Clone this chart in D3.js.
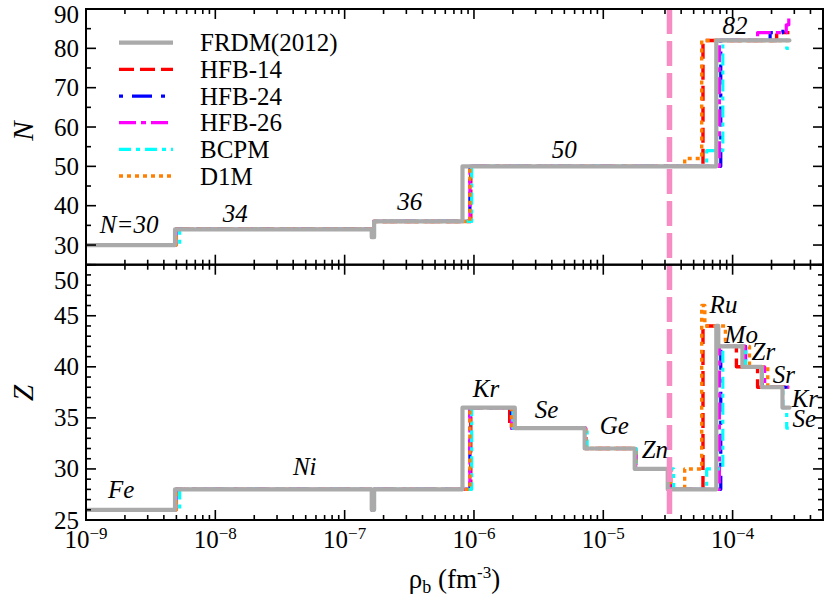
<!DOCTYPE html>
<html><head><meta charset="utf-8">
<script src="https://cdn.jsdelivr.net/npm/d3@7"></script>
<style>
body{margin:0;background:#fff;}
svg{display:block;}
</style></head>
<body><svg id="chart" width="824" height="603"></svg>
<script>
// ---------------- DATA ----------------
// each model: start density of each nucleus (fm^-3), its Z and N, and last density
const frdmRho = [1e-9, 4.88e-9, 1.62e-7, 1.69e-7, 8.15e-7, 2.07e-6, 7.18e-6, 1.75e-5, 3.15e-5, 7.48e-5, 7.75e-5, 1.19e-4, 1.68e-4, 2.43e-4];
const frdmZ   = [26, 28, 26, 28, 36, 34, 32, 30, 28, 44, 42, 40, 38, 36];
const frdmN   = [30, 34, 32, 36, 50, 50, 50, 50, 50, 82, 82, 82, 82, 82];
const frdmEnd = 2.75e-4;

const hfb14Rho = [1e-9, 4.95e-9, 1.62e-7, 1.68e-7, 9.45e-7, 1.89e-6, 7.3e-6, 1.78e-5, 3.32e-5, 5.9e-5, 7.6e-5, 1.07e-4, 1.56e-4, 2.19e-4];
const hfb14Z   = [26, 28, 26, 28, 36, 34, 32, 30, 28, 44, 42, 40, 38, 38];
const hfb14N   = [30, 34, 32, 36, 50, 50, 50, 50, 50, 82, 82, 82, 82, 84];
const hfb14End = 2.75e-4;

const hfb24Rho = [1e-9, 4.95e-9, 1.62e-7, 1.68e-7, 9.3e-7, 1.95e-6, 7.3e-6, 1.78e-5, 3.25e-5, 8.1e-5, 1.26e-4, 1.7e-4, 1.95e-4, 2.45e-4];
const hfb24Z   = [26, 28, 26, 28, 36, 34, 32, 30, 28, 42, 40, 38, 38, 38];
const hfb24N   = [30, 34, 32, 36, 50, 50, 50, 50, 50, 82, 82, 82, 84, 86];
const hfb24End = 2.72e-4;

const hfb26Rho = [1e-9, 4.95e-9, 1.62e-7, 1.68e-7, 9.3e-7, 1.95e-6, 7.3e-6, 1.78e-5, 3.25e-5, 7.9e-5, 1.25e-4, 1.56e-4, 1.77e-4, 2.6e-4, 2.72e-4];
const hfb26Z   = [26, 28, 26, 28, 36, 34, 32, 30, 28, 42, 40, 40, 38, 38, 38];
const hfb26N   = [30, 34, 32, 36, 50, 50, 50, 50, 50, 82, 82, 84, 84, 86, 88];
const hfb26End = 2.75e-4;

const bcpmRho = [1e-9, 5.3e-9, 1.62e-7, 1.7e-7, 9.6e-7, 2.0e-6, 7.5e-6, 1.8e-5, 3.5e-5, 6.3e-5, 8.4e-5, 1.26e-4, 1.7e-4, 2.45e-4, 2.62e-4];
const bcpmZ   = [26, 28, 26, 28, 36, 34, 32, 30, 28, 30, 42, 40, 38, 36, 34];
const bcpmN   = [30, 34, 32, 36, 50, 50, 50, 50, 50, 54, 82, 82, 82, 82, 80];
const bcpmEnd = 2.72e-4;

const d1mRho = [1e-9, 5.0e-9, 1.62e-7, 1.68e-7, 9.3e-7, 1.95e-6, 7.3e-6, 1.78e-5, 3.3e-5, 4.26e-5, 5.77e-5, 6.1e-5, 8.8e-5, 1.35e-4, 1.87e-4];
const d1mZ   = [26, 28, 26, 28, 36, 34, 32, 30, 28, 30, 46, 44, 42, 40, 38];
const d1mN   = [30, 34, 32, 36, 50, 50, 50, 50, 50, 52, 82, 82, 82, 82, 82];
const d1mEnd = 2.7e-4;

const modelNames = ["FRDM(2012)", "HFB-14", "HFB-24", "HFB-26", "BCPM", "D1M"];
const dripDensity = 3.25e-5;

const xDomain = [1e-9, 5e-4];
const nDomain = [25, 90];
const zDomain = [25, 50];
const nTicks = [30, 40, 50, 60, 70, 80, 90];
const zTicks = [25, 30, 35, 40, 45, 50];

// magic-number labels (text, density of left edge, baseline value)
const nLabelText = ["N=30", "34", "36", "50", "82"];
const nLabelRho  = [1.28e-9, 1.14e-8, 2.55e-7, 3.99e-6, 8.37e-5];
const nLabelVal  = [33.05, 35.9, 38.95, 52.2, 83.6];
// element labels
const zLabelText = ["Fe", "Ni", "Kr", "Se", "Ge", "Zn", "Ru", "Mo", "Zr", "Sr", "Kr", "Se"];
const zLabelRho  = [1.48e-9, 3.98e-8, 9.8e-7, 2.95e-6, 9.38e-6, 1.98e-5, 6.64e-5, 8.67e-5, 1.40e-4, 2.04e-4, 2.86e-4, 2.91e-4];
const zLabelVal  = [27.16, 29.41, 37.06, 35.0, 33.43, 31.08, 45.29, 42.35, 40.69, 38.43, 36.08, 34.12];

// ---------------- STYLE / LAYOUT ----------------
const L = 86, R = 823, T = 9, MID = 264.7, B = 520;
const svg = d3.select("#chart").style("font-family", '"Liberation Serif"');
const x = d3.scaleLog().domain(xDomain).range([L, R]);
const yN = d3.scaleLinear().domain(nDomain).range([MID, T]);
const yZ = d3.scaleLinear().domain(zDomain).range([B, MID]);

const models = [
  {name: modelNames[0], rho: frdmRho, Z: frdmZ, N: frdmN, end: frdmEnd, color: "#aaaaaa", w: 4.2, dash: null, cap: "round"},
  {name: modelNames[1], rho: hfb14Rho, Z: hfb14Z, N: hfb14N, end: hfb14End, color: "#ff0000", w: 3.4, dash: "15,6", cap: "butt"},
  {name: modelNames[2], rho: hfb24Rho, Z: hfb24Z, N: hfb24N, end: hfb24End, color: "#0000ff", w: 3.2, dash: "4,9,20,9", cap: "butt"},
  {name: modelNames[3], rho: hfb26Rho, Z: hfb26Z, N: hfb26N, end: hfb26End, color: "#ff00ff", w: 3.2, dash: "17,5,5,5", cap: "butt"},
  {name: modelNames[4], rho: bcpmRho, Z: bcpmZ, N: bcpmN, end: bcpmEnd, color: "#00ffff", w: 3.2, dash: "12,5,4,5", cap: "butt"},
  {name: modelNames[5], rho: d1mRho, Z: d1mZ, N: d1mN, end: d1mEnd, color: "#ff8000", w: 3.4, dash: "4,4", cap: "butt"}
];

const defs = svg.append("defs");
defs.append("clipPath").attr("id", "clipTop").append("rect").attr("x", L).attr("y", T).attr("width", R - L).attr("height", MID - T);
defs.append("clipPath").attr("id", "clipBot").append("rect").attr("x", L).attr("y", MID).attr("width", R - L).attr("height", B - MID);

function panel(yScale, key, clipId) {
  const g = svg.append("g").attr("clip-path", `url(#${clipId})`);
  const line = d3.line().x(d => x(d[0])).y(d => yScale(d[1])).curve(d3.curveStepAfter);
  const order = models.slice(1).concat([models[0]]);
  order.forEach(m => {
    const pts = m.rho.map((r, i) => [r, m[key][i]]);
    pts.push([m.end, m[key][m[key].length - 1]]);
    g.append("path").attr("d", line(pts)).attr("fill", "none")
      .attr("stroke", m.color).attr("stroke-width", m.w)
      .attr("stroke-dasharray", m.dash).attr("stroke-linecap", m.cap)
      .attr("stroke-linejoin", "round");
  });
}
panel(yN, "N", "clipTop");
panel(yZ, "Z", "clipBot");

// drip line
svg.append("line").attr("x1", x(dripDensity)).attr("x2", x(dripDensity))
  .attr("y1", T).attr("y2", B).attr("stroke", "#f78bc4").attr("stroke-width", 5.5)
  .attr("stroke-dasharray", "25,7");

// frames + ticks
const axG = svg.append("g").attr("stroke", "#000").attr("fill", "none");
function frame(y0, y1) {
  axG.append("rect").attr("x", L).attr("y", y0).attr("width", R - L).attr("height", y1 - y0).attr("stroke-width", 2);
}
frame(T, MID); frame(MID, B);

const xMinor = [];
for (let e = -9; e <= -4; e++) for (let k = 1; k <= 9; k++) { const v = k * Math.pow(10, e); if (v <= xDomain[1] * 1.0001) xMinor.push([v, k === 1]); }
function xTicks(yEdge, dir) {
  xMinor.forEach(([v, major]) => {
    const len = major ? 10 : 5;
    axG.append("line").attr("x1", x(v)).attr("x2", x(v)).attr("y1", yEdge).attr("y2", yEdge + dir * len).attr("stroke-width", 1.6);
  });
}
xTicks(T, 1); xTicks(MID, -1); xTicks(MID, 1); xTicks(B, -1);

function yTicks(yScale, lo, hi, minorStep, majorStep) {
  for (let v = lo; v <= hi + 1e-9; v += minorStep) {
    const major = Math.abs(v / majorStep - Math.round(v / majorStep)) < 1e-6;
    const len = major ? 10 : 5;
    const yy = yScale(v);
    axG.append("line").attr("x1", L).attr("x2", L + len).attr("y1", yy).attr("y2", yy).attr("stroke-width", 1.6);
    axG.append("line").attr("x1", R).attr("x2", R - len).attr("y1", yy).attr("y2", yy).attr("stroke-width", 1.6);
  }
}
yTicks(yN, 25, 90, 5, 10);
yTicks(yZ, 25, 50, 1, 5);

// tick labels
nTicks.forEach(v => {
  svg.append("text").attr("x", 79).attr("y", yN(v) + (v === 90 ? 5 : 0)).attr("text-anchor", "end")
    .attr("dominant-baseline", "central").attr("font-size", 25).text(v);
});
zTicks.forEach(v => {
  svg.append("text").attr("x", 79).attr("y", yZ(v) + (v === 50 ? 16 : 0)).attr("text-anchor", "end")
    .attr("dominant-baseline", "central").attr("font-size", 25).text(v);
});
for (let e = -9; e <= -4; e++) {
  const t = svg.append("text").attr("x", x(Math.pow(10, e))).attr("y", 548).attr("text-anchor", "middle").attr("font-size", 25);
  t.append("tspan").text("10");
  t.append("tspan").attr("dy", -9).attr("font-size", 17).text("\u2212" + (-e));
}

// axis titles
svg.append("text").attr("transform", "translate(33,131) rotate(-90)").attr("text-anchor", "middle")
  .attr("font-size", 29).attr("font-style", "italic").text("N");
svg.append("text").attr("transform", "translate(33,393) rotate(-90)").attr("text-anchor", "middle")
  .attr("font-size", 29).attr("font-style", "italic").text("Z");
const xt = svg.append("text").attr("x", (L + R) / 2).attr("y", 588).attr("text-anchor", "middle").attr("font-size", 27);
xt.append("tspan").text("\u03c1");
xt.append("tspan").attr("dy", 5).attr("font-size", 18).text("b");
xt.append("tspan").attr("dy", -5).text(" (fm");
xt.append("tspan").attr("dy", -10).attr("font-size", 17).text("-3");
xt.append("tspan").attr("dy", 10).text(")");

// in-plot labels
nLabelText.forEach((t, i) => {
  svg.append("text").attr("x", x(nLabelRho[i])).attr("y", yN(nLabelVal[i])).attr("font-size", 25).attr("font-style", "italic").text(t);
});
zLabelText.forEach((t, i) => {
  svg.append("text").attr("x", x(zLabelRho[i])).attr("y", yZ(zLabelVal[i])).attr("font-size", 25).attr("font-style", "italic").text(t);
});

// legend
models.forEach((m, i) => {
  const yy = 42.7 + i * 26.67;
  svg.append("line").attr("x1", 119).attr("x2", 173).attr("y1", yy).attr("y2", yy)
    .attr("stroke", m.color).attr("stroke-width", m.w).attr("stroke-dasharray", m.dash);
  svg.append("text").attr("x", 200).attr("y", yy).attr("dominant-baseline", "central").attr("font-size", 25).text(m.name);
});
</script></body></html>
